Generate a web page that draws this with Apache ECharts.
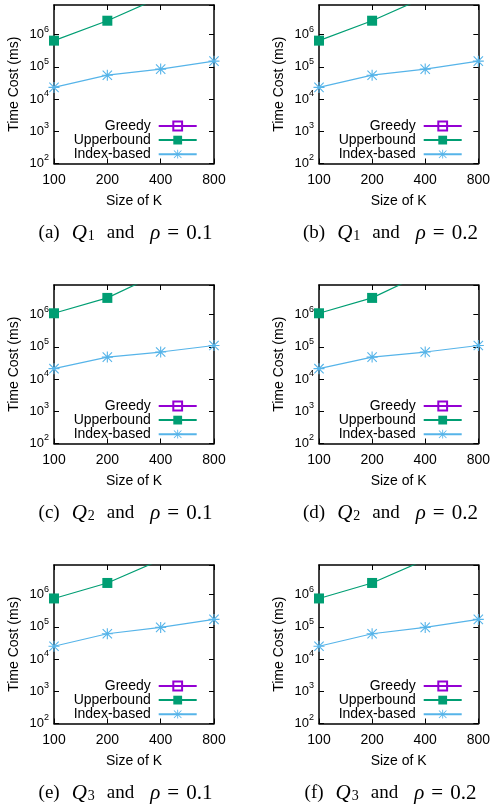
<!DOCTYPE html>
<html>
<head>
<meta charset="utf-8">
<script src="https://cdn.jsdelivr.net/npm/echarts@6/dist/echarts.min.js"></script>
<style>
  html, body { margin: 0; padding: 0; background: #fff; }
  #chart { width: 493px; height: 810px; }
</style>
</head>
<body>
<div id="chart"></div>
<script>
// 数据
const kSizes = ['100', '200', '400', '800'];
const seriesNames = ['Greedy', 'Upperbound', 'Index-based'];

// greedy 超出纵轴范围,图中不可见
const greedyA = [2.0e7, 6.0e7, 2.0e8, 6.0e8];
const upperA = [6.5e5, 2.7e6, 1.45e7, 6.0e7];
const indexA = [2.3e4, 5.5e4, 8.5e4, 1.5e5];

const greedyB = [2.0e7, 6.0e7, 2.0e8, 6.0e8];
const upperB = [6.5e5, 2.7e6, 1.45e7, 6.0e7];
const indexB = [2.3e4, 5.5e4, 8.5e4, 1.5e5];

const greedyC = [2.5e7, 8.0e7, 2.5e8, 8.0e8];
const upperC = [1.1e6, 3.3e6, 2.0e7, 9.0e7];
const indexC = [2.1e4, 4.8e4, 6.9e4, 1.1e5];

const greedyD = [2.5e7, 8.0e7, 2.5e8, 8.0e8];
const upperD = [1.1e6, 3.3e6, 2.0e7, 9.0e7];
const indexD = [2.1e4, 4.8e4, 6.9e4, 1.1e5];

const greedyE = [2.0e7, 6.0e7, 2.0e8, 6.0e8];
const upperE = [7.6e5, 2.3e6, 1.2e7, 5.0e7];
const indexE = [2.5e4, 6.1e4, 9.6e4, 1.7e5];

const greedyF = [2.0e7, 6.0e7, 2.0e8, 6.0e8];
const upperF = [7.6e5, 2.3e6, 1.2e7, 5.0e7];
const indexF = [2.5e4, 6.1e4, 9.6e4, 1.7e5];

const yMin = 100;
const yMax = 8.3e6;

const panelLetters = ['a', 'b', 'c', 'd', 'e', 'f'];
const querySubs = ['1', '1', '2', '2', '3', '3'];
const rhoValues = ['0.1', '0.2', '0.1', '0.2', '0.1', '0.2'];

const panels = [
    [greedyA, upperA, indexA],
    [greedyB, upperB, indexB],
    [greedyC, upperC, indexC],
    [greedyD, upperD, indexD],
    [greedyE, upperE, indexE],
    [greedyF, upperF, indexF]
];

const colors = ['#9400d3', '#009e73', '#56b4e9'];
const asterisk = 'path://M0 9L20 9L20 11L0 11Z M9 0L11 0L11 20L9 20Z M2.2 0.8L19.2 17.8L17.8 19.2L0.8 2.2Z M19.2 2.2L2.2 19.2L0.8 17.8L17.8 0.8Z';

document.addEventListener('DOMContentLoaded', () => {
    initChart();
});

function initChart() {
    const myChart = echarts.init(document.getElementById('chart'));
    const grids = [], xAxes = [], yAxes = [], series = [], legends = [], graphics = [];

    panels.forEach((data, k) => {
        const col = k % 2;
        const row = Math.floor(k / 2);
        const left = 54 + 265 * col;
        const top = 5 + 280 * row;

        grids.push({ left: left, top: top, width: 160, height: 158.5 });

        const axisLine = { show: true, lineStyle: { color: '#000', width: 1.5 } };
        const axisTick = { show: true, inside: true, length: 5, lineStyle: { color: '#000', width: 1 } };

        // 底部x轴
        xAxes.push({
            type: 'category', gridIndex: k, data: kSizes, boundaryGap: false,
            position: 'bottom',
            axisLine: axisLine, axisTick: axisTick,
            axisLabel: { fontSize: 14, color: '#000', margin: 10, fontFamily: 'Liberation Sans' },
            name: 'Size of K', nameLocation: 'middle', nameGap: 31,
            nameTextStyle: { fontSize: 14, color: '#000', fontFamily: 'Liberation Sans' },
            splitLine: { show: false }
        });
        // 顶部镜像x轴
        xAxes.push({
            type: 'category', gridIndex: k, data: kSizes, boundaryGap: false,
            position: 'top',
            axisLine: axisLine, axisTick: axisTick,
            axisLabel: { show: false }, splitLine: { show: false }
        });

        // 左侧y轴
        yAxes.push({
            type: 'log', logBase: 10, gridIndex: k, min: yMin, max: yMax,
            position: 'left',
            axisLine: axisLine, axisTick: axisTick,
            axisLabel: {
                margin: 5, color: '#000', showMaxLabel: false,
                formatter: v => '{b|10}{s|' + Math.round(Math.log10(v)) + '}',
                rich: {
                    b: { fontSize: 13, fontFamily: 'Liberation Sans', color: '#000' },
                    s: { fontSize: 9, fontFamily: 'Liberation Sans', color: '#000', padding: [0, 0, 11, 0] }
                }
            },
            name: 'Time Cost (ms)', nameLocation: 'middle', nameGap: 33,
            nameTextStyle: { fontSize: 14, color: '#000', fontFamily: 'Liberation Sans' },
            splitLine: { show: false }
        });
        // 右侧镜像y轴
        yAxes.push({
            type: 'log', logBase: 10, gridIndex: k, min: yMin, max: yMax,
            position: 'right',
            axisLine: axisLine, axisTick: axisTick,
            axisLabel: { show: false }, splitLine: { show: false }
        });

        series.push({
            name: seriesNames[0], type: 'line', xAxisIndex: 2 * k, yAxisIndex: 2 * k,
            data: data[0], symbol: 'rect', symbolSize: 10,
            lineStyle: { color: colors[0], width: 1.2 },
            itemStyle: { color: 'none', borderColor: colors[0], borderWidth: 1.2 }
        });
        series.push({
            name: seriesNames[1], type: 'line', xAxisIndex: 2 * k, yAxisIndex: 2 * k,
            data: data[1], symbol: 'rect', symbolSize: 10,
            lineStyle: { color: colors[1], width: 1.2 },
            itemStyle: { color: colors[1] }
        });
        series.push({
            name: seriesNames[2], type: 'line', xAxisIndex: 2 * k, yAxisIndex: 2 * k,
            data: data[2], symbol: asterisk, symbolSize: 11,
            lineStyle: { color: colors[2], width: 1.2 },
            itemStyle: { color: colors[2] }
        });

        legends.push({
            data: seriesNames, orient: 'vertical', align: 'right',
            right: 493 - (197.7 + 265 * col), top: 119 + 280 * row,
            padding: 0, itemWidth: 38, itemHeight: 11, itemGap: 0.1,
            selectedMode: false,
            textStyle: { fontSize: 14, color: '#000', fontFamily: 'Liberation Sans', padding: [0, 3, 0, 0] }
        });

        // 子图标题
        graphics.push({
            type: 'text',
            x: 125.5 + 265 * col, y: 233 + 280 * row,
            style: {
                text: '{t|(' + panelLetters[k] + ')}{i|Q}{sub|' + querySubs[k] + '}{a|and}{r|ρ}{e|=}{m|' + rhoValues[k] + '}',
                align: 'center', verticalAlign: 'middle',
                rich: {
                    t: { fontSize: 19, fontFamily: 'Liberation Serif', fill: '#000' },
                    i: { fontSize: 21, fontStyle: 'italic', fontFamily: 'Liberation Serif', fill: '#000', padding: [0, 0, 0, 12] },
                    sub: { fontSize: 14, fontFamily: 'Liberation Serif', fill: '#000', padding: [6, 0, 0, 1] },
                    a: { fontSize: 19, fontFamily: 'Liberation Serif', fill: '#000', padding: [0, 0, 0, 12] },
                    r: { fontSize: 21, fontStyle: 'italic', fontFamily: 'Liberation Serif', fill: '#000', padding: [0, 0, 0, 16] },
                    e: { fontSize: 21, fontFamily: 'Liberation Serif', fill: '#000', padding: [0, 0, 0, 7] },
                    m: { fontSize: 21, fontFamily: 'Liberation Serif', fill: '#000', padding: [0, 0, 0, 7] }
                }
            }
        });
    });

    const option = {
        animation: false,
        backgroundColor: '#fff',
        textStyle: { fontFamily: 'Liberation Sans' },
        grid: grids,
        xAxis: xAxes,
        yAxis: yAxes,
        legend: legends,
        series: series,
        graphic: graphics
    };
    myChart.setOption(option);
}
</script>
</body>
</html>
